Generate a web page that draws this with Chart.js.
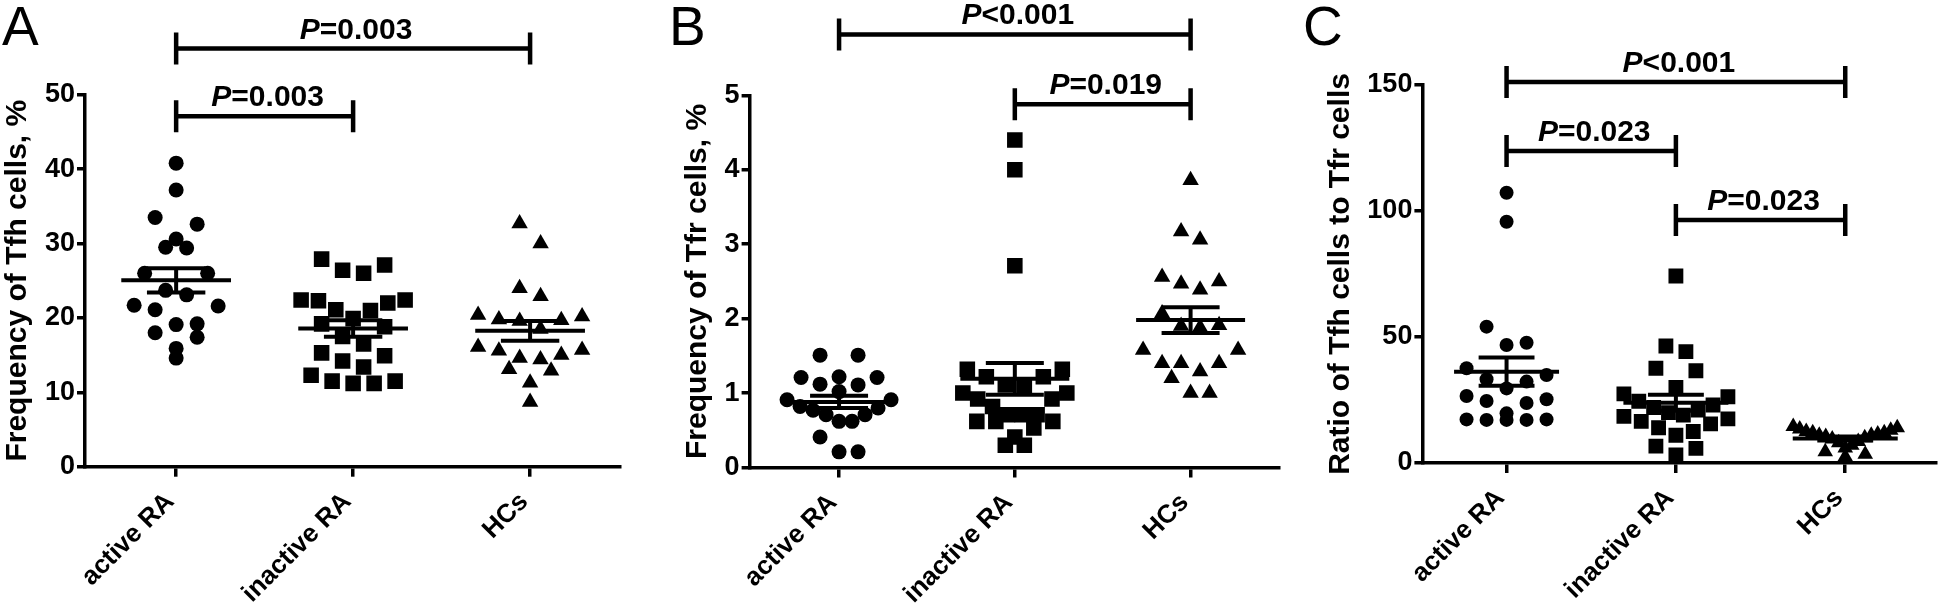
<!DOCTYPE html>
<html>
<head>
<meta charset="utf-8">
<script src="https://cdn.jsdelivr.net/npm/chart.js@4.4.1/dist/chart.umd.min.js"></script>
<style>
  html, body { margin: 0; padding: 0; background: #fff; }
  #wrap { position: relative; width: 1946px; height: 608px; overflow: hidden; }
  .panel { position: absolute; top: 0; height: 608px; }
  .letter { position: absolute; top: -1px; font: 55px/1 "Liberation Sans", Arial, sans-serif; color: #000; }
</style>
</head>
<body>
<div id="wrap">
  <div class="panel" style="left:0;width:640px"><canvas id="chartA" width="640" height="608"></canvas></div>
  <div class="panel" style="left:640px;width:650px"><canvas id="chartB" width="650" height="608"></canvas></div>
  <div class="panel" style="left:1290px;width:656px"><canvas id="chartC" width="656" height="608"></canvas></div>
  <div class="letter" style="left:2px">A</div>
  <div class="letter" style="left:669px">B</div>
  <div class="letter" style="left:1303px">C</div>
</div>
<script>
const categories = ["active RA", "inactive RA", "HCs"];

// A: frequency of Tfh cells (%)
const tfhActiveRA = [40.8, 37.2, 33.5, 32.6, 30.6, 29.5, 29.4, 26.0, 26.0, 23.7, 23.1, 21.7, 21.6, 21.1, 19.2, 19.1, 18.0, 17.4, 15.9, 14.6];
const tfhInactiveRA = [27.9, 27.1, 26.4, 26.0, 22.4, 22.4, 22.3, 22.0, 21.1, 21.0, 19.9, 19.2, 18.8, 17.5, 16.5, 15.3, 14.9, 14.2, 13.4, 12.3, 11.5, 11.5, 11.2, 11.2];
const tfhHCs = [32.7, 30.0, 24.0, 22.9, 20.4, 20.2, 19.8, 19.7, 19.6, 18.5, 16.1, 15.7, 15.6, 15.0, 14.6, 14.4, 13.1, 12.9, 11.3, 8.7];

// B: frequency of Tfr cells (%)
const tfrActiveRA = [1.51, 1.51, 1.22, 1.21, 1.21, 1.12, 1.11, 1.02, 0.91, 0.91, 0.82, 0.80, 0.77, 0.71, 0.71, 0.62, 0.62, 0.41, 0.21, 0.21];
const tfrInactiveRA = [4.40, 4.00, 2.71, 1.32, 1.32, 1.22, 1.22, 1.11, 1.10, 1.00, 1.00, 0.92, 0.92, 0.82, 0.71, 0.71, 0.71, 0.62, 0.62, 0.62, 0.53, 0.41, 0.30, 0.30];
const tfrHCs = [3.86, 3.17, 3.06, 2.56, 2.50, 2.47, 2.39, 2.07, 1.91, 1.90, 1.88, 1.58, 1.58, 1.40, 1.40, 1.40, 1.29, 1.20, 1.00, 1.00];

// C: ratio of Tfh cells to Tfr cells
const ratioActiveRA = [107.2, 95.7, 54.1, 47.7, 46.8, 37.6, 34.9, 33.2, 32.3, 29.6, 26.6, 25.3, 24.6, 23.8, 19.7, 17.3, 17.3, 17.1, 17.1, 17.1];
const ratioInactiveRA = [74.2, 46.4, 44.2, 37.6, 36.6, 30.0, 27.4, 26.3, 24.5, 23.0, 22.0, 21.0, 20.0, 19.0, 18.5, 17.5, 16.5, 15.5, 14.0, 12.5, 11.0, 6.7, 5.8, 3.2];
const ratioHCs = [14.5, 14.0, 13.5, 13.0, 12.5, 12.0, 12.0, 11.5, 11.0, 11.0, 10.5, 10.0, 9.5, 8.5, 8.0, 7.0, 6.0, 4.5, 3.5, 2.5];

// comparisons: [group, group, operator, p value]
const tfhComparisons = [[0, 2, "=", "0.003"], [0, 1, "=", "0.003"]];
const tfrComparisons = [[0, 2, "<", "0.001"], [1, 2, "=", "0.019"]];
const ratioComparisons = [[0, 2, "<", "0.001"], [0, 1, "=", "0.023"], [1, 2, "=", "0.023"]];

const FONT = "'Liberation Sans', Arial, sans-serif";
Chart.defaults.font.family = FONT;
Chart.defaults.color = "#000";

const panels = [
  { id: "chartA", groups: [tfhActiveRA, tfhInactiveRA, tfhHCs], title: "Frequency of Tfh cells, %",
    yMax: 50, yStep: 10, comparisons: tfhComparisons, levels: [56.2, 47.1],
    padLeft: 0, yWidth: 85, padRight: 20, top: 94.7, bottom: 466.7, xMin: 0.485, xMax: 3.508,
    sizes: [7.5, 11, 9.5], step: 21 },
  { id: "chartB", groups: [tfrActiveRA, tfrInactiveRA, tfrHCs], title: "Frequency of Tfr cells, %",
    yMax: 5, yStep: 1, comparisons: tfrComparisons, levels: [5.82, 4.88],
    padLeft: 39.8, yWidth: 69.8, padRight: 9.3, top: 95.4, bottom: 467.5, xMin: 0.491, xMax: 3.503,
    sizes: [7.5, 11, 9.5], step: 19 },
  { id: "chartC", groups: [ratioActiveRA, ratioInactiveRA, ratioHCs], title: "Ratio of Tfh cells to Tfr cells",
    yMax: 150, yStep: 50, comparisons: ratioComparisons, levels: [151.2, 123.8, 96.4],
    padLeft: 32.8, yWidth: 99.6, padRight: 0, top: 84.9, bottom: 463, xMin: 0.503, xMax: 3.533,
    sizes: [7, 10.5, 9], step: 20 },
];

// GraphPad-style rows: points close in height share a row, highest values at the outside
function rowOffsets(pys, step, maxHalf) {
  const order = pys.map((_, i) => i).sort((a, b) => pys[a] - pys[b]);
  const out = new Array(pys.length).fill(0);
  let i = 0;
  while (i < order.length) {
    const start = pys[order[i]];
    const row = [];
    while (i < order.length && pys[order[i]] - start < 22) row.push(order[i++]);
    const n = row.length;
    const s = n > 1 ? Math.min(step, (2 * maxHalf) / (n - 1)) : 0;
    const slots = [];
    for (let k = 0; k < n; k++) slots.push((k - (n - 1) / 2) * s);
    slots.sort((a, b) => Math.abs(b) - Math.abs(a) || a - b);
    row.forEach((idx, k) => { out[idx] = slots[k]; });
  }
  return out;
}

// P value brackets drawn above the plot
function bracketPlugin(cfg) {
  return {
    id: "brackets",
    afterDraw(chart) {
      const { ctx, scales: { x, y } } = chart;
      ctx.save();
      ctx.strokeStyle = "#000";
      ctx.fillStyle = "#000";
      ctx.lineWidth = 4.5;
      cfg.comparisons.forEach(([a, b, op, p], k) => {
        const x1 = x.getPixelForValue(a + 1), x2 = x.getPixelForValue(b + 1);
        const yy = y.getPixelForValue(cfg.levels[k]);
        ctx.beginPath();
        ctx.moveTo(x1, yy); ctx.lineTo(x2, yy);
        ctx.moveTo(x1, yy - 16); ctx.lineTo(x1, yy + 16);
        ctx.moveTo(x2, yy - 16); ctx.lineTo(x2, yy + 16);
        ctx.stroke();
        const italic = "italic bold 30px " + FONT, bold = "bold 30px " + FONT;
        ctx.font = italic;
        const w1 = ctx.measureText("P").width;
        ctx.font = bold;
        const rest = op + p;
        const w2 = ctx.measureText(rest).width;
        const sx = (x1 + x2) / 2 - (w1 + w2) / 2 + 3;
        ctx.textAlign = "left";
        ctx.textBaseline = "alphabetic";
        ctx.font = italic;
        ctx.fillText("P", sx, yy - 10);
        ctx.font = bold;
        ctx.fillText(rest, sx + w1, yy - 10);
      });
      ctx.restore();
    },
  };
}

function makePanel(cfg) {
  const styles = ["circle", "rect", "triangle"];
  const pointSets = cfg.groups.map((vals, g) => ({
    data: vals.map(v => ({ x: g + 1, y: v })),
    pointStyle: styles[g],
    pointRadius: cfg.sizes[g],
    backgroundColor: "#000",
    borderColor: "#000",
    borderWidth: 0,
  }));

  // mean and SEM bars
  const statSets = [];
  cfg.groups.forEach((vals, g) => {
    const n = vals.length;
    const m = vals.reduce((s, v) => s + v, 0) / n;
    const sd = Math.sqrt(vals.reduce((s, v) => s + (v - m) ** 2, 0) / (n - 1));
    const se = sd / Math.sqrt(n);
    const c = g + 1;
    [[c - 0.31, c + 0.31, m, m], [c - 0.165, c + 0.165, m + se, m + se],
     [c - 0.165, c + 0.165, m - se, m - se], [c, c, m - se, m + se]].forEach(([x0, x1, y0, y1]) => {
      statSets.push({
        showLine: true,
        data: [{ x: x0, y: y0 }, { x: x1, y: y1 }],
        borderColor: "#000",
        borderWidth: 4,
        pointRadius: 0,
        fill: false,
      });
    });
  });

  const chart = new Chart(document.getElementById(cfg.id), {
    type: "scatter",
    data: { datasets: [...pointSets, ...statSets] },
    options: {
      responsive: false,
      animation: false,
      events: [],
      layout: { padding: { left: cfg.padLeft, right: cfg.padRight, top: cfg.top, bottom: 0 } },
      plugins: { legend: { display: false }, tooltip: { enabled: false } },
      scales: {
        x: {
          type: "linear",
          min: cfg.xMin,
          max: cfg.xMax,
          afterBuildTicks: s => { s.ticks = categories.map((_, i) => ({ value: i + 1 })); },
          afterFit: s => { s.height = 608 - cfg.bottom; },
          ticks: {
            autoSkip: false, minRotation: 45, maxRotation: 45, padding: 10, labelOffset: -6,
            color: "#000", font: { size: 26, weight: "bold" },
            callback: v => categories[v - 1],
          },
          grid: { drawOnChartArea: false, tickLength: 10, lineWidth: 3.5, color: "#000" },
          border: { color: "#000", width: 3.5 },
        },
        y: {
          min: 0,
          max: cfg.yMax,
          afterFit: s => { s.width = cfg.yWidth; },
          ticks: { stepSize: cfg.yStep, padding: 2, color: "#000", font: { size: 27, weight: "bold" } },
          grid: { drawOnChartArea: false, tickLength: 8, lineWidth: 3.5, color: "#000" },
          border: { color: "#000", width: 3.5 },
          title: {
            display: true, text: cfg.title, color: "#000",
            font: { size: 30, weight: "bold" }, padding: { top: 0, bottom: 0 },
          },
        },
      },
    },
    plugins: [bracketPlugin(cfg)],
  });

  // spread points sideways once the scales are known
  const xs = chart.scales.x, ys = chart.scales.y;
  const unit = xs.getPixelForValue(2) - xs.getPixelForValue(1);
  cfg.groups.forEach((vals, g) => {
    const off = rowOffsets(vals.map(v => ys.getPixelForValue(v)), cfg.step, 52);
    chart.data.datasets[g].data = vals.map((v, i) => ({ x: g + 1 + off[i] / unit, y: v }));
  });
  chart.update();
}

panels.forEach(makePanel);
</script>
</body>
</html>
